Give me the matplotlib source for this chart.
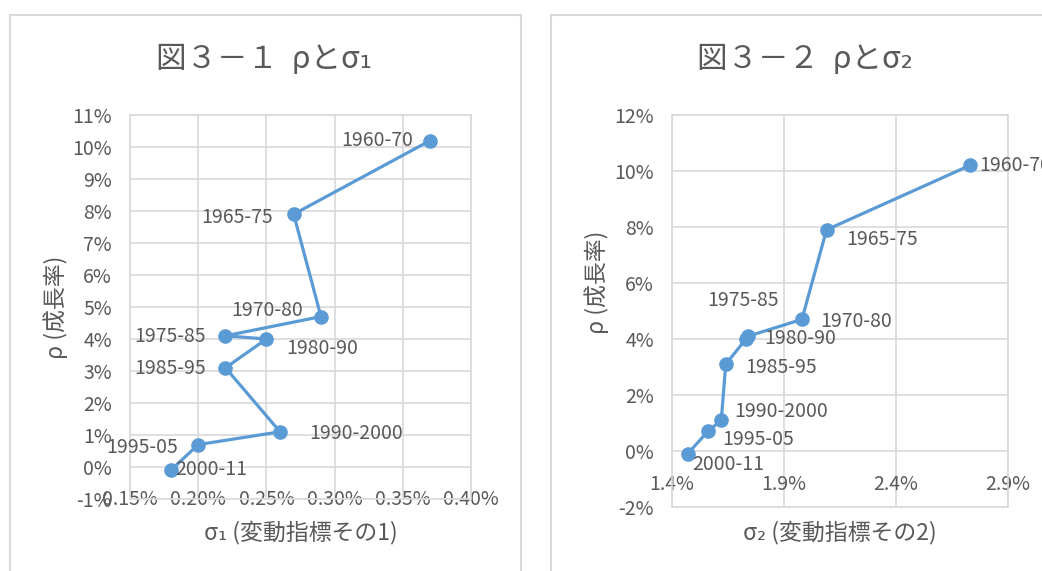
import matplotlib
matplotlib.use("Agg")
import matplotlib.pyplot as plt
import numpy as np
from matplotlib.patches import Rectangle
from matplotlib.ticker import FuncFormatter, FixedLocator

plt.rcParams['font.family'] = ['Noto Sans CJK JP', 'DejaVu Sans']

# data (values in %)
periods = ["1960-70", "1965-75", "1970-80", "1975-85", "1980-90",
           "1985-95", "1990-2000", "1995-05", "2000-11"]
rho = [10.2, 7.9, 4.7, 4.1, 4.0, 3.1, 1.1, 0.7, -0.1]
sigma1 = [0.37, 0.27, 0.29, 0.22, 0.25, 0.22, 0.26, 0.20, 0.18]
sigma2 = [2.73, 2.09, 1.98, 1.74, 1.73, 1.64, 1.62, 1.56, 1.47]

titles = ["図３－１  ρとσ₁", "図３－２  ρとσ₂"]
xlabels = ["σ₁ (変動指標その1)", "σ₂ (変動指標その2)"]
ylabel = "ρ (成長率)"

# label placement (pixels offset, alignment)
offs1 = [(-17, 0, 'right'), (-21, -3, 'right'), (-18, 6, 'right'), (-20, -1, 'right'),
         (20, -9, 'left'), (-20, -1, 'right'), (29, -2, 'left'), (-20, -3, 'right'),
         (4, 1, 'left')]
offs2 = [(9, 0, 'left'), (20, -10, 'left'), (18, -2, 'left'), (-5, 36, 'center'),
         (18, 1, 'left'), (19, -3, 'left'), (13, 9, 'left'), (14, -8, 'left'),
         (5, -11, 'left')]

BLUE = "#5B9BD5"
TXT = "#595959"
GRID = "#D9D9D9"

W, H = 1042, 571
fig = plt.figure(figsize=(W / 100, H / 100), dpi=100)

# chart frames
fig.add_artist(Rectangle((10 / W, -0.05), 511 / W, 1.05 - 15 / H, transform=fig.transFigure,
                         fill=False, edgecolor=GRID, lw=1.5))
fig.add_artist(Rectangle((551 / W, -0.05), 0.6, 1.05 - 15 / H, transform=fig.transFigure,
                         fill=False, edgecolor=GRID, lw=1.5))

ax1 = fig.add_axes([130 / W, 1 - 499 / H, 341 / W, 384 / H])
ax2 = fig.add_axes([672 / W, 1 - 507 / H, 336 / W, 392 / H])


def setup(ax, xs, offs, xlim, xstep, xfmt, ylim, ystep, xpad, title, xlabel, tcx, ylx, yly, xly):
    ax.plot(xs, rho, color=BLUE, lw=2.3, marker='o', ms=9.5, zorder=3, clip_on=False)
    for x, y, lab, (dx, dy, ha) in zip(xs, rho, periods, offs):
        ax.annotate(lab, (x, y), xytext=(dx, dy), textcoords='offset pixels',
                    ha=ha, va='center', fontsize=14, color=TXT, annotation_clip=False)
    ax.set_xlim(*xlim)
    ax.set_ylim(*ylim)
    ax.xaxis.set_major_locator(FixedLocator(np.arange(xlim[0], xlim[1] + xstep / 2, xstep)))
    ax.yaxis.set_major_locator(FixedLocator(np.arange(ylim[0], ylim[1] + ystep / 2, ystep)))
    ax.xaxis.set_major_formatter(FuncFormatter(lambda v, p: xfmt.format(v)))
    ax.yaxis.set_major_formatter(FuncFormatter(lambda v, p: f"{v:.0f}%"))
    ax.grid(True, color=GRID, lw=1.2)
    ax.set_axisbelow(True)
    for s in ax.spines.values():
        s.set_color(GRID)
        s.set_linewidth(1.2)
    ax.tick_params(axis='both', length=0, labelsize=14, labelcolor=TXT)
    ax.tick_params(axis='y', pad=13)
    ax.tick_params(axis='x', pad=xpad)
    ax.text(ylx, yly, ylabel, transform=ax.transAxes, rotation=90, ha='center', va='center',
            fontsize=16.5, color=TXT)
    ax.text(0.5, xly, xlabel, transform=ax.transAxes, ha='center', va='center',
            fontsize=16.5, color=TXT)
    fig.text(tcx / W, 1 - 60 / H, title, ha='center', va='center', fontsize=22, color=TXT)


setup(ax1, sigma1, offs1, (0.15, 0.40), 0.05, "{:.2f}%", (-1, 11), 1, -7,
      titles[0], xlabels[0], 264, -0.217, 0.5, -0.086)
setup(ax2, sigma2, offs2, (1.4, 2.9), 0.5, "{:.1f}%", (-2, 12), 2, -24,
      titles[1], xlabels[1], 805, -0.223, 0.574, -0.064)

fig.savefig("out.png", dpi=100)
